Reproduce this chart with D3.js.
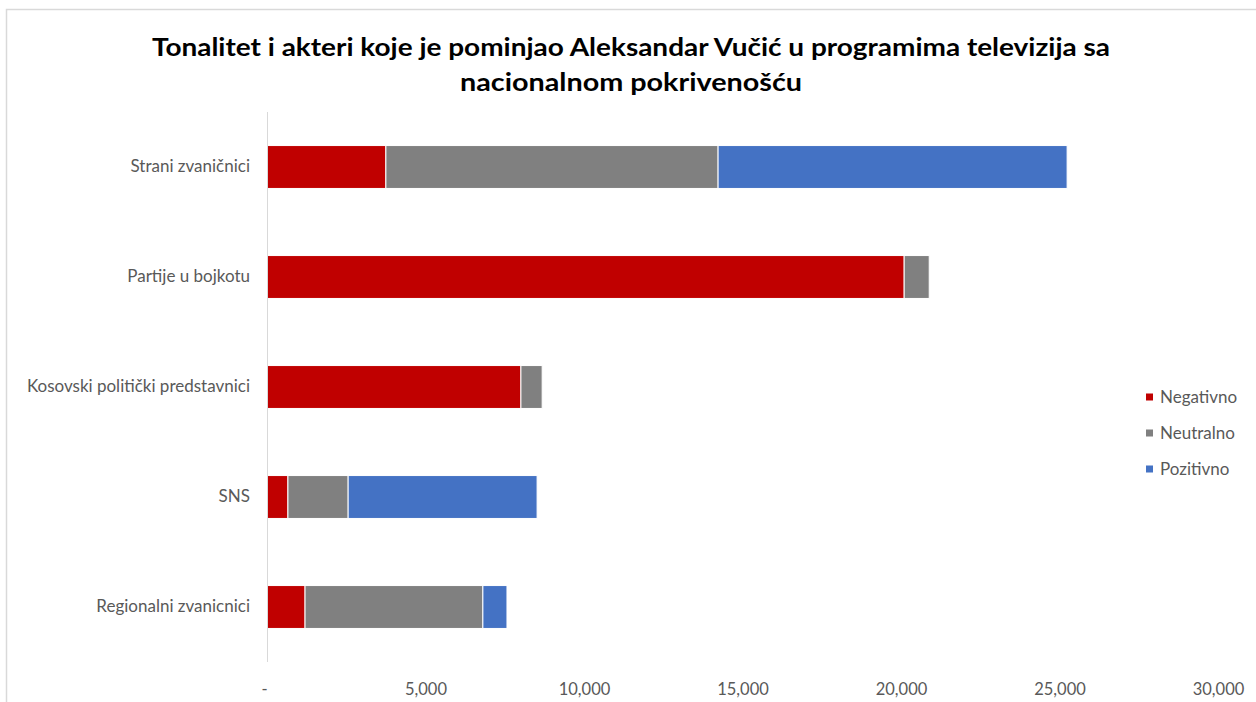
<!DOCTYPE html>
<html><head><meta charset="utf-8">
<script src="https://cdn.jsdelivr.net/npm/d3@7"></script>
<style>body{margin:0;background:#fff;}svg{display:block;}</style>
</head><body>
<svg id="c" width="1256" height="702"></svg>
<script>
const categories = ["Strani zvaničnici","Partije u bojkotu","Kosovski politički predstavnici","SNS","Regionalni zvanicnici"];
const seriesNames = ["Negativno","Neutralno","Pozitivno"];
const seriesColors = ["#C00000","#808080","#4472C4"];
const negativno = [3750, 20100, 8010, 660, 1200];
const neutralno = [10480, 790, 670, 1900, 5610];
const pozitivno = [11010, 0, 0, 5960, 760];
const xTicks = [0, 5000, 10000, 15000, 20000, 25000, 30000];
const titleLines = ["Tonalitet i akteri koje je pominjao  Aleksandar Vučić u programima televizija sa","nacionalnom pokrivenošću"];
const titleWidths = [958, 342];

const table = categories.map((c,i)=>({cat:c, Negativno:negativno[i], Neutralno:neutralno[i], Pozitivno:pozitivno[i]}));
const stack = d3.stack().keys(seriesNames)(table);

const svg = d3.select("#c");
const font = "Lato, 'Open Sans', sans-serif";

svg.append("rect").attr("x",6.5).attr("y",9.5).attr("width",1270).attr("height",720)
  .attr("fill","none").attr("stroke","#d9d9d9").attr("stroke-width",1.5);

const x = d3.scaleLinear().domain([0,30000]).range([267,1218]);
const y = d3.scaleBand().domain(categories).range([112,662]).paddingInner(0.61).paddingOuter(0.305);

// title
svg.append("g").selectAll("text").data(titleLines).join("text")
  .attr("x",631).attr("y",(d,i)=>56+i*35).attr("text-anchor","middle")
  .attr("font-family",font).attr("font-weight","bold").attr("font-size",25).attr("fill","#000")
  .attr("textLength",(d,i)=>titleWidths[i]).attr("lengthAdjust","spacingAndGlyphs")
  .text(d=>d);

// bars
svg.append("g").selectAll("g").data(stack).join("g")
  .attr("fill",(d,i)=>seriesColors[i])
  .selectAll("rect").data(d=>d).join("rect")
  .attr("x",d=>x(d[0])).attr("width",d=>Math.max(0,x(d[1])-x(d[0])))
  .attr("y",d=>y(d.data.cat)).attr("height",y.bandwidth())
  .attr("stroke","#fff").attr("stroke-width",d=>d[1]>d[0]?1:0);

// y axis line
svg.append("line").attr("x1",267.5).attr("x2",267.5).attr("y1",112).attr("y2",662)
  .attr("stroke","#d9d9d9").attr("stroke-width",1);

// category labels
const yAxis = svg.append("g").attr("transform","translate(267,0)")
  .call(d3.axisLeft(y).tickSize(0).tickPadding(17));
yAxis.select(".domain").remove();
yAxis.selectAll("text").attr("font-family",font).attr("font-size",17).attr("fill","#595959");

// x tick labels
const xAxis = svg.append("g").attr("transform","translate(0,689)")
  .call(d3.axisBottom(x).tickValues(xTicks).tickSize(0).tickPadding(0)
    .tickFormat(v=> v===0 ? "-" : d3.format(",")(v)));
xAxis.select(".domain").remove();
xAxis.selectAll("text").attr("font-family",font).attr("font-size",16.5).attr("fill","#595959").attr("dy","0.35em").attr("y",0);
xAxis.selectAll(".tick").filter(d=>d===0).select("text").attr("dx",-3);

// legend
const lg = svg.append("g").selectAll("g").data(seriesNames).join("g")
  .attr("transform",(d,i)=>`translate(1146,${397+i*36})`);
lg.append("rect").attr("x",0).attr("y",-3.5).attr("width",7).attr("height",7).attr("fill",(d,i)=>seriesColors[i]);
lg.append("text").attr("x",14).attr("y",0).attr("dy","0.35em")
  .attr("font-family",font).attr("font-size",17).attr("fill","#595959").text(d=>d);
</script>
</body></html>
